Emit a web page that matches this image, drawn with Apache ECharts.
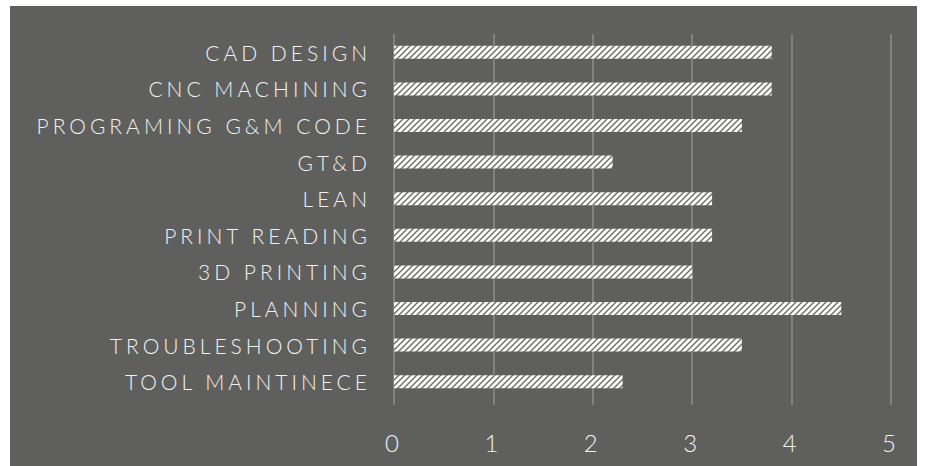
<!DOCTYPE html>
<html>
<head>
<meta charset="utf-8">
<script src="https://cdn.jsdelivr.net/npm/echarts@6/dist/echarts.min.js"></script>
<style>
  html, body { margin: 0; padding: 0; background: #ffffff; }
  #panel { position: absolute; left: 10px; top: 6px; width: 907px; height: 460px; background: #5f5f5d; }
  #chart { position: absolute; left: 0; top: 0; width: 927px; height: 466px; }
  #chart text { letter-spacing: 4px; }
</style>
</head>
<body>
<div id="panel"></div>
<div id="chart"></div>
<script>
// categories, top to bottom
var skills = ['CAD DESIGN', 'CNC MACHINING', 'PROGRAMING G&M CODE', 'GT&D', 'LEAN',
              'PRINT READING', '3D PRINTING', 'PLANNING', 'TROUBLESHOOTING', 'TOOL MAINTINECE'];
var scores = [3.8, 3.8, 3.5, 2.2, 3.2, 3.2, 3.0, 4.5, 3.5, 2.3];
var xTicks = [0, 1, 2, 3, 4, 5];

// hatched fill (light upward diagonal)
var c = document.createElement('canvas');
c.width = 6; c.height = 6;
var g = c.getContext('2d');
g.fillStyle = '#ffffff';
g.fillRect(0, 0, 6, 6);
g.strokeStyle = '#6a6a68';
g.lineWidth = 1.4;
g.beginPath();
g.moveTo(-1, 7); g.lineTo(7, -1);
g.moveTo(-4, 4); g.lineTo(4, -4);
g.moveTo(2, 10); g.lineTo(10, 2);
g.stroke();
var hatch = c.toDataURL();

var myChart = echarts.init(document.getElementById('chart'), null, { renderer: 'svg' });

var option = {
    backgroundColor: 'transparent',
    animation: false,
    grid: { left: 394, right: 36, top: 34, bottom: 66 },
    xAxis: {
        type: 'value',
        min: xTicks[0],
        max: xTicks[xTicks.length - 1],
        interval: 1,
        axisLine: { show: false },
        axisTick: { show: true, length: 5, lineStyle: { color: '#8c8c8a', width: 1.5 } },
        splitLine: { show: true, lineStyle: { color: '#8c8c8a', width: 1.5 } },
        axisLabel: {
            color: '#f2f2f2',
            fontFamily: 'Lato',
            fontWeight: 300,
            fontSize: 24,
            margin: 30
        }
    },
    yAxis: {
        type: 'category',
        inverse: true,
        data: skills,
        axisLine: { show: false },
        axisTick: { show: false },
        axisLabel: {
            color: '#f2f2f2',
            fontFamily: 'Lato',
            fontWeight: 300,
            fontSize: 21,
            margin: 23
        }
    },
    series: [{
        type: 'bar',
        data: scores,
        barWidth: 13,
        itemStyle: {
            color: { image: hatch, repeat: 'repeat' }
        }
    }]
};

myChart.setOption(option);
</script>
</body>
</html>
